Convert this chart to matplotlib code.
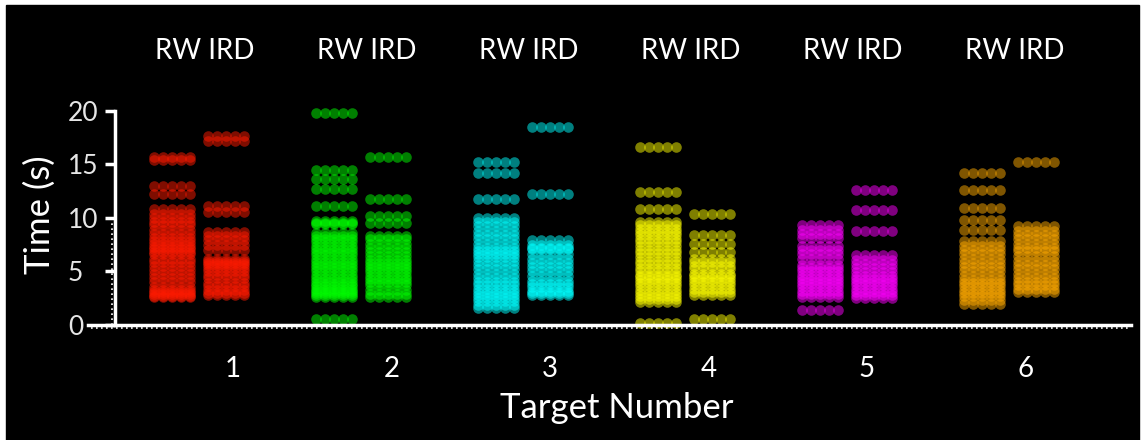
import matplotlib.pyplot as plt
import numpy as np
from matplotlib.patches import Rectangle

plt.rcParams['font.family'] = ['Lato', 'DejaVu Sans']

# targets and colours
targets = ['1', '2', '3', '4', '5', '6']
colors = ['#ff1a00', '#00ff00', '#00ffff', '#ffff00', '#ff00ff', '#ffaa00']

# times (s), one list per target
rw_times = [
    [15.7, 15.4, 13.0, 12.2, 10.8, 10.4, 10.0, 9.6, 9.3, 8.9, 8.5, 8.1, 7.8, 7.6, 7.3, 7.1,
     6.8, 6.6, 6.2, 5.9, 5.5, 5.1, 4.8, 4.4, 4.0, 3.5, 3.3, 3.1, 2.9, 2.7, 2.6],
    [19.8, 14.5, 13.6, 12.7, 11.1, 9.7, 9.5, 9.4, 8.6, 8.3, 8.0, 7.7, 7.4, 7.1, 6.8, 6.5,
     6.2, 5.9, 5.6, 5.3, 5.0, 4.7, 4.4, 4.1, 3.8, 3.6, 3.4, 3.2, 3.0, 2.8, 2.6, 0.55],
    [15.2, 14.2, 11.8, 10.0, 9.6, 9.2, 8.8, 8.4, 8.0, 7.6, 7.2, 6.9, 6.6, 6.3, 6.0, 5.6,
     5.2, 4.8, 4.4, 4.0, 3.7, 3.4, 3.1, 2.8, 2.5, 2.2, 1.9, 1.6],
    [16.6, 12.4, 10.8, 9.6, 9.3, 9.0, 8.7, 8.4, 8.0, 7.7, 7.4, 7.0, 6.7, 6.3, 6.0, 5.7,
     5.3, 5.0, 4.7, 4.5, 4.2, 3.9, 3.6, 3.3, 3.0, 2.7, 2.4, 2.1, 0.2],
    [9.3, 8.9, 8.5, 8.1, 7.4, 7.0, 6.6, 6.2, 5.6, 5.3, 5.0, 4.7, 4.4, 4.1, 3.8, 3.5,
     3.2, 2.9, 2.6, 1.4],
    [14.2, 12.6, 10.9, 9.8, 8.9, 7.8, 7.4, 7.0, 6.6, 6.2, 5.8, 5.4, 5.0, 4.6, 4.2, 3.9,
     3.6, 3.3, 3.0, 2.7, 2.3, 2.0],
]
ird_times = [
    [17.6, 17.2, 11.1, 10.5, 8.7, 8.3, 7.9, 7.5, 7.0, 6.2, 6.0, 5.8, 5.6, 5.3, 5.0, 4.7,
     4.4, 3.9, 3.6, 3.3, 3.0, 2.8],
    [15.7, 11.8, 10.2, 9.5, 8.3, 8.0, 7.6, 7.2, 6.8, 6.4, 6.1, 5.8, 5.5, 5.2, 4.9, 4.6,
     4.3, 4.0, 3.7, 3.3, 2.9, 2.6],
    [18.5, 12.2, 7.9, 7.5, 7.2, 7.1, 6.6, 6.2, 5.8, 5.4, 5.0, 4.6, 4.1, 3.8, 3.5, 3.2,
     3.0, 2.8],
    [10.4, 8.4, 7.6, 6.8, 6.2, 5.9, 5.5, 5.2, 4.8, 4.6, 4.3, 4.0, 3.7, 3.4, 3.1, 2.8, 0.55],
    [12.6, 10.7, 8.8, 6.5, 6.1, 5.7, 5.3, 4.9, 4.6, 4.3, 4.0, 3.7, 3.4, 3.1, 2.8, 2.5],
    [15.2, 9.2, 8.8, 8.4, 8.0, 7.6, 7.2, 6.9, 6.4, 6.0, 5.6, 5.2, 4.8, 4.4, 4.0, 3.7,
     3.4, 3.1],
]

W, H = 1144, 440
fig = plt.figure(figsize=(W / 100, H / 100), dpi=100, facecolor='white')
fig.patches.append(Rectangle((6 / W, 0), (1139 - 6) / W, (H - 5) / H,
                             transform=fig.transFigure, color='black', zorder=-10))

ax = fig.add_axes([88 / W, 115 / H, (1131 - 88) / W, (329.3 - 115) / H])
ax.set_facecolor('none')

offsets = np.array([-2, -1, 0, 1, 2]) * 0.167
for i in range(len(targets)):
    for j, times in enumerate([rw_times[i], ird_times[i]]):
        xc = 3 * i + j
        for off in offsets:
            ax.scatter(np.full(len(times), xc + off), times, s=58, color=colors[i],
                       alpha=0.5, linewidths=0, clip_on=False, zorder=2)

ax.set_xlim(-1.556, 17.76)
ax.set_ylim(0, 20)

for s in ['top', 'right']:
    ax.spines[s].set_visible(False)
ax.spines['left'].set_position(('data', -1.056))
ax.spines['left'].set_color('white')
ax.spines['bottom'].set_color('white')
ax.spines['left'].set_linewidth(2.5)
ax.spines['bottom'].set_linewidth(2.5)

# rough dotted edge under the axis lines
ax.plot([-1.5, 17.7], [-0.3, -0.3], color='white', lw=1.2, ls=(0, (1, 2)), clip_on=False)
ax.plot([-1.11, -1.11], [0, 10], color='white', lw=1.2, ls=(0, (1, 2)), clip_on=False)

ax.set_yticks([0, 5, 10, 15, 20])
ax.tick_params(axis='y', colors='white', labelcolor='#e6e6e6', length=7, width=2.5,
               labelsize=19, pad=27)
for lab in ax.get_yticklabels():
    lab.set_horizontalalignment('left')
ax.set_xticks(np.arange(6) * 2.935 + 1.13)
ax.set_xticklabels(targets)
ax.tick_params(axis='x', length=0, labelcolor='white', labelsize=20, pad=22)

for i in range(len(targets)):
    ax.text(3 * i + 0.6, 1.28, 'RW IRD', transform=ax.get_xaxis_transform(),
            ha='center', va='center', color='white', fontsize=20)

fig.text(617 / W, (H - 408) / H, 'Target Number', ha='center', va='center',
         color='white', fontsize=25)
fig.text(40 / W, (H - 215) / H, 'Time (s)', ha='center', va='center',
         rotation=90, color='white', fontsize=25)

fig.savefig('out.png', dpi=100, facecolor=fig.get_facecolor())
